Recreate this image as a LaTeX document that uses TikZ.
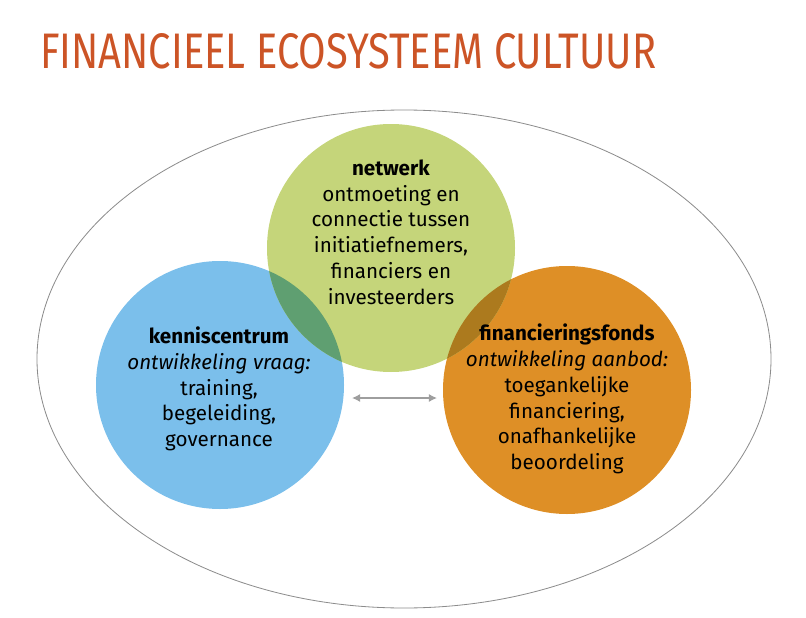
\documentclass[tikz,border=0pt]{standalone}
\usepackage{fontspec}
\setmainfont{Fira Sans}
\usetikzlibrary{arrows.meta}
\definecolor{titel}{HTML}{CC5426}
\definecolor{blauw}{HTML}{7BBFEB}
\definecolor{groen}{HTML}{C5D57A}
\definecolor{oranje}{HTML}{DE8F26}
\definecolor{blauwgroen}{HTML}{5F9F71}
\definecolor{oranjegroen}{HTML}{AC7A1E}
\tikzset{
  bol/.style={circle, minimum size=248*0.03cm, inner sep=0pt},
  tekst/.style={align=center, font=\fontsize{17.6}{22}\selectfont, text=black, inner sep=0pt},
}

\begin{document}
\begin{tikzpicture}[x=0.03cm, y=-0.03cm]
		%%%%% START %%%%%
		
		\useasboundingbox (0, 0) rectangle (806, 618);
		
		\node[anchor=west, inner sep=0pt, text=titel] (titel) at (40, 51) {\resizebox{18.48cm}{1.05cm}{FINANCIEEL ECOSYSTEEM CULTUUR}};
		
		\draw[line width=0.7pt, color=black!45] (404, 359) ellipse (367 and 249);
		
		\node[bol, fill=blauw] (kennis) at (220, 385) {};
		\node[bol, fill=oranje] (fonds) at (567, 390) {};
		\node[bol, fill=groen] (netwerk) at (391, 248) {};
		
		\begin{scope}
			\clip (391, 248) circle (124);
			\fill[blauwgroen] (220, 385) circle (124);
			\fill[oranjegroen] (567, 390) circle (124);
		\end{scope}
		
		\node[tekst] (netwerktekst) at (391, 232) {\textbf{netwerk}\\ontmoeting en\\connectie tussen\\initiatiefnemers,\\financiers en\\investeerders};
		\node[tekst] (kennistekst) at (219, 389) {\textbf{kenniscentrum}\\\textit{ontwikkeling vraag:}\\training,\\begeleiding,\\governance};
		\node[tekst] (fondstekst) at (567, 399) {\textbf{financieringsfonds}\\\textit{ontwikkeling aanbod:}\\toegankelijke\\financiering,\\onafhankelijke\\beoordeling};
		
		\coordinate (pijlL) at (352, 398);
		\coordinate (pijlR) at (437, 398);
		\draw[line width=1.2pt, color=black!38, {Latex[length=7pt, width=7pt]}-{Latex[length=7pt, width=7pt]}] (pijlL) -- (pijlR);
		
		%%%%% END %%%%%
\end{tikzpicture}
\end{document}
